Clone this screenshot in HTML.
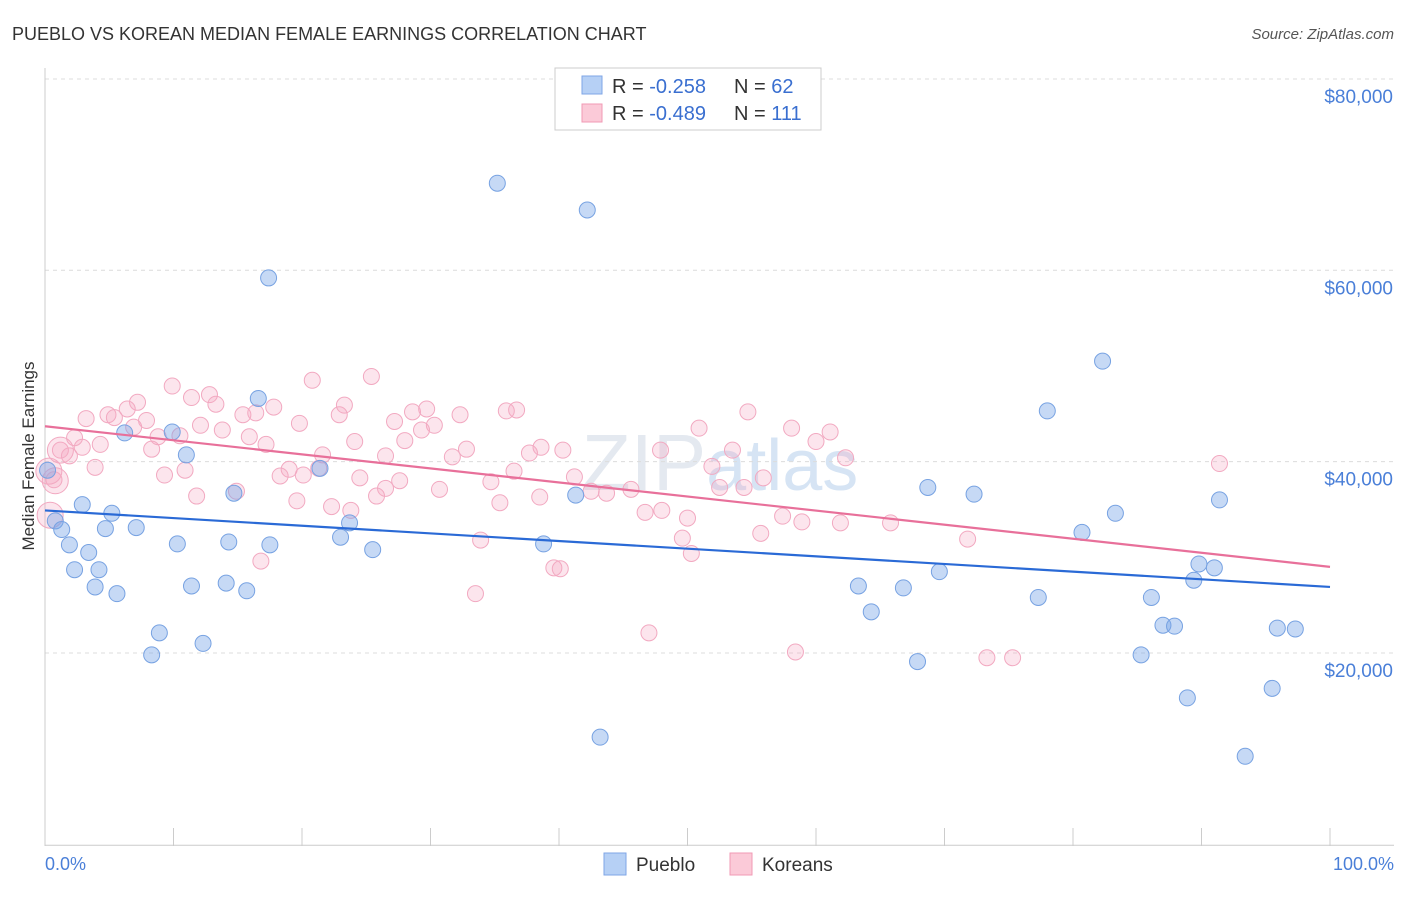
<!DOCTYPE html>
<html><head><meta charset="utf-8"><style>
body{margin:0;background:#fff;font-family:"Liberation Sans",sans-serif;}
svg text{font-family:"Liberation Sans",sans-serif;}
</style></head><body>
<svg id="chart" width="1406" height="892" xmlns="http://www.w3.org/2000/svg">
<text x="12" y="40" font-size="18" fill="#333">PUEBLO VS KOREAN MEDIAN FEMALE EARNINGS CORRELATION CHART</text>
<text x="1394" y="39" font-size="15" fill="#555" text-anchor="end" font-style="italic">Source: ZipAtlas.com</text>
<text x="720" y="490" font-size="80" fill="#e4e9f0" text-anchor="middle" font-family="Liberation Serif">ZIP<tspan font-family="Liberation Sans" fill="#d6e4f4" font-size="72">atlas</tspan></text>
<g id="grid"></g>
<g id="axes"></g>
<g id="pink"></g>
<g id="blue"></g>
<g id="trends"></g>
<text transform="translate(34,456) rotate(-90)" font-size="17" fill="#333" text-anchor="middle">Median Female Earnings</text>
<text x="45" y="870" font-size="18" fill="#4a7fd8">0.0%</text>
<text x="1394" y="870" font-size="18" fill="#4a7fd8" text-anchor="end">100.0%</text>
<g>
<rect x="555" y="68" width="266" height="62" fill="#fff" stroke="#ccc"/>
<rect x="582" y="76" width="20" height="18" fill="#b6d0f5" stroke="#7fa6e6"/>
<rect x="582" y="104" width="20" height="18" fill="#fbcad8" stroke="#f09ab4"/>
<text x="612" y="93" font-size="20" fill="#333">R = <tspan fill="#3a6fd0">-0.258</tspan></text>
<text x="734" y="93" font-size="20" fill="#333">N = <tspan fill="#3a6fd0">62</tspan></text>
<text x="612" y="120" font-size="20" fill="#333">R = <tspan fill="#3a6fd0">-0.489</tspan></text>
<text x="734" y="120" font-size="20" fill="#333">N = <tspan fill="#3a6fd0">111</tspan></text>
</g>
<g>
<rect x="604" y="853" width="22" height="22" fill="#b6d0f5" stroke="#7fa6e6"/>
<text x="636" y="871" font-size="19" fill="#333">Pueblo</text>
<rect x="730" y="853" width="22" height="22" fill="#fbcad8" stroke="#f09ab4"/>
<text x="762" y="871" font-size="19" fill="#333">Koreans</text>
</g>
</svg>
<script>
const yTicks=[20000,40000,60000,80000];
const yTickLabels=["$20,000","$40,000","$60,000","$80,000"];
const xTicks=[0,10,20,30,40,50,60,70,80,90,100];
const puebloX=[35.2,42.2,17.4,82.3,16.6,78.0,6.2,9.9,11.0,21.4,0.2,14.7,41.3,68.7,72.3,91.4,2.9,5.2,83.3,0.8,23.7,1.3,4.7,7.1,80.7,23.0,1.9,10.3,14.3,17.5,25.5,38.8,3.4,89.8,91.0,2.3,4.2,69.6,89.4,3.9,11.4,14.1,63.3,66.8,5.6,15.7,77.3,86.1,64.3,87.0,87.9,95.9,97.3,8.9,12.3,8.3,85.3,67.9,95.5,88.9,43.2,93.4];
const puebloY=[69.1,66.3,59.2,50.5,46.6,45.3,43.0,43.1,40.7,39.3,39.1,36.7,36.5,37.3,36.6,36.0,35.5,34.6,34.6,33.8,33.6,32.9,33.0,33.1,32.6,32.1,31.3,31.4,31.6,31.3,30.8,31.4,30.5,29.3,28.9,28.7,28.7,28.5,27.6,26.9,27.0,27.3,27.0,26.8,26.2,26.5,25.8,25.8,24.3,22.9,22.8,22.6,22.5,22.1,21.0,19.8,19.8,19.1,16.3,15.3,11.2,9.2];
const koreanX=[25.4,20.8,9.9,7.2,11.4,12.8,23.3,29.7,36.7,35.9,6.4,4.9,3.2,5.4,7.9,15.4,16.4,17.8,13.3,22.9,28.6,32.3,54.7,27.2,19.8,12.1,6.9,13.8,30.3,29.3,50.9,58.1,61.1,2.3,8.8,10.5,15.9,24.1,28.0,60.0,17.2,4.3,2.9,8.3,1.2,38.6,40.3,47.9,53.5,32.8,1.9,21.6,26.5,37.7,31.7,62.3,3.9,10.9,19.0,21.3,36.5,51.9,91.4,0.7,9.3,18.3,20.1,24.5,41.2,55.9,27.6,34.7,54.4,52.5,14.9,26.5,30.7,45.6,42.5,43.7,11.8,25.8,38.5,19.6,35.4,22.3,23.8,48.0,46.7,57.4,50.0,58.9,65.8,61.9,33.9,49.6,55.7,71.8,50.3,39.6,40.1,16.8,33.5,47.0,58.4,73.3,75.3,0.8,0.4,1.2,0.3];
const koreanY=[48.9,48.5,47.9,46.2,46.7,47.0,45.9,45.5,45.4,45.3,45.5,44.9,44.5,44.6,44.3,44.9,45.1,45.7,46.0,44.9,45.2,44.9,45.2,44.2,44.0,43.8,43.6,43.3,43.8,43.3,43.5,43.5,43.1,42.5,42.6,42.7,42.6,42.1,42.2,42.1,41.8,41.8,41.5,41.3,41.2,41.5,41.2,41.2,41.2,41.3,40.6,40.7,40.6,40.9,40.5,40.4,39.4,39.1,39.2,39.3,39.0,39.5,39.8,38.1,38.6,38.5,38.6,38.3,38.4,38.3,38.0,37.9,37.3,37.3,36.9,37.2,37.1,37.1,36.9,36.7,36.4,36.4,36.3,35.9,35.7,35.3,34.9,34.9,34.7,34.3,34.1,33.7,33.6,33.6,31.8,32.0,32.5,31.9,30.4,28.9,28.8,29.6,26.2,22.1,20.1,19.5,19.5,38.0,34.4,41.2,39.0];
const puebloTrend=[34.9,26.9];
const koreanTrend=[43.7,29.0];
const NS="http://www.w3.org/2000/svg";
const X0=45,X1=1330,YB=844.3,PPK=9.567;
function sx(p){return X0+(X1-X0)*p/100;}
function sy(v){return YB-v*PPK/1000;}
function mk(tag,attrs,parent){const e=document.createElementNS(NS,tag);for(const k in attrs)e.setAttribute(k,attrs[k]);parent.appendChild(e);return e;}
const grid=document.getElementById('grid'),axes=document.getElementById('axes');
yTicks.forEach((t,i)=>{
 const l=mk('line',{x1:45,x2:1394,y1:sy(t),y2:sy(t),stroke:'#dcdcdc','stroke-dasharray':'4,4'},grid);
 
 
 const tx=mk('text',{x:1393,y:sy(t)+24,'font-size':19,fill:'#4a7fd8','text-anchor':'end'},axes);
 tx.textContent=yTickLabels[i];
 
 
});
const gl=mk('line',{x1:45,x2:1394,y1:sy(0)+1,y2:sy(0)+1,stroke:'#ccc'},axes);


const yl=mk('line',{x1:45,x2:45,y1:68,y2:846,stroke:'#ccc'},axes);


xTicks.forEach(t=>{
 const l=mk('line',{x1:sx(t),x2:sx(t),y1:828,y2:846,stroke:'#ccc'},axes);
 
 
});
function pts(xs,ys,g,fill,stroke,name){
 xs.forEach((x,i)=>{
  const big=(name==='korean-point'&&i>=xs.length-4);
  const c=mk('circle',{cx:sx(x),cy:sy(ys[i]*1000),r:big?13:8,fill:fill,stroke:stroke,'stroke-width':1},g);
  
  
 });
}
pts(koreanX,koreanY,document.getElementById('pink'),'rgba(246,170,195,0.3)','#f2a9c1','korean-point');
pts(puebloX,puebloY,document.getElementById('blue'),'rgba(120,165,232,0.42)','#77a2e2','pueblo-point');
const tr=document.getElementById('trends');
const bt=mk('line',{x1:sx(0),x2:sx(100),y1:sy(puebloTrend[0]*1000),y2:sy(puebloTrend[1]*1000),stroke:'#2a6ad6','stroke-width':2.2},tr);


const pt=mk('line',{x1:sx(0),x2:sx(100),y1:sy(koreanTrend[0]*1000),y2:sy(koreanTrend[1]*1000),stroke:'#e8709a','stroke-width':2.2},tr);


</script>
</body></html>
